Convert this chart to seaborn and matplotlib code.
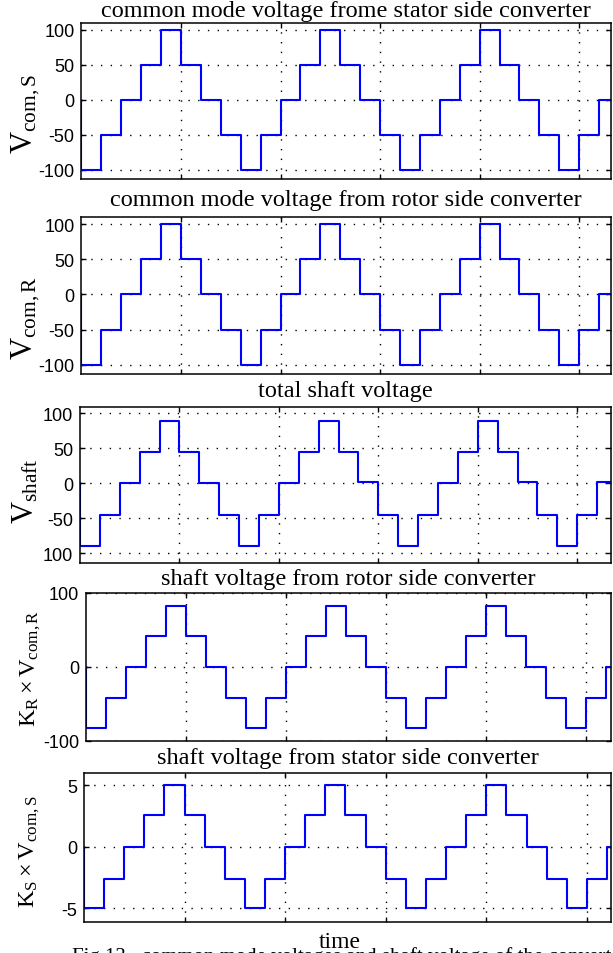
"""
Common mode / shaft voltage staircase waveforms (five stacked panels).
"""
import matplotlib
matplotlib.use("Agg")
import matplotlib.pyplot as plt
import pandas as pd
import seaborn as sns

# ─────────────────────────────── data ────────────────────────────────

# switching instants (first point repeated: the trace starts at 0 then drops)
t_edges = [0.0, 0.0, 0.2, 0.4, 0.6, 0.8, 1.0, 1.2, 1.4, 1.6, 1.8, 2.0, 2.2, 2.4,
           2.6, 2.8, 3.0, 3.2, 3.4, 3.6, 3.8, 4.0, 4.2, 4.4, 4.6, 4.8, 5.0, 5.2, 5.4]

v_com_s = [0, -100, -50, 0, 50, 100, 50, 0, -50,
           -100, -50, 0, 50, 100, 50, 0, -50,
           -100, -50, 0, 50, 100, 50, 0, -50,
           -100, -50, 0, 0]
v_com_r = [0, -100, -50, 0, 50, 100, 50, 0, -50,
           -100, -50, 0, 50, 100, 50, 0, -50,
           -100, -50, 0, 50, 100, 50, 0, -50,
           -100, -50, 0, 0]
v_shaft = [0, -89, -45, 0, 45, 89, 45, 0, -45,
           -89, -45, 0, 45, 89, 45, 1.5, -45,
           -89, -45, 0, 45, 89, 45, 1.5, -45,
           -89, -45, 1.5, 1.5]
kr_v_com_r = [0, -83, -42, 0, 42, 83, 42, 0, -42,
              -83, -42, 0, 42, 83, 42, 0, -42,
              -83, -42, 0, 42, 83, 42, 0, -42,
              -83, -42, 0, 0]
ks_v_com_s = [0, -5, -2.6, 0, 2.6, 5, 2.6, 0, -2.6,
              -5, -2.6, 0, 2.6, 5, 2.6, 0, -2.6,
              -5, -2.6, 0, 2.6, 5, 2.6, 0, -2.6,
              -5, -2.6, 0, 0]

titles = ["common mode voltage frome stator side converter",
          "common mode voltage from rotor side converter",
          "total shaft voltage",
          "shaft voltage from rotor side converter",
          "shaft voltage from stator side converter"]
ylabels = [r"$\mathrm{V_{com,S}}$",
           r"$\mathrm{V_{com,R}}$",
           r"$\mathrm{V_{shaft}}$",
           r"$\mathrm{K_R\times V_{com,R}}$",
           r"$\mathrm{K_S\times V_{com,S}}$"]
y_ticks = [[-100, -50, 0, 50, 100],
           [-100, -50, 0, 50, 100],
           [-100, -50, 0, 50, 100],
           [-100, 0, 100],
           [-5, 0, 5]]
y_ticklabels = [["-100", "-50", "0", "50", "100"],
                ["-100", "-50", "0", "50", "100"],
                ["100", "-50", "0", "50", "100"],
                ["-100", "0", "100"],
                ["-5", "0", "5"]]
x_ticks = [1, 2, 3, 4, 5]
series = [v_com_s, v_com_r, v_shaft, kr_v_com_r, ks_v_com_s]

# ────────────────────────────── layout ───────────────────────────────

W, H = 613, 954
# axes boxes in pixels: left, top, right, bottom
boxes = [(81.5, 24, 611, 180),
         (81.5, 218, 611, 375),
         (80, 408, 611, 564),
         (86, 594, 611, 742),
         (84, 774, 611, 923)]
y_lims = [(-113, 110), (-113, 110), (-114, 109), (-100, 100), (-6.1, 6.0)]
x_max = [5.32, 5.32, 5.34, 5.25, 5.24]
title_pads = [5.3, 8.4, 7.9, 6.7, 7.4]
ylabel_size = [22, 22, 22, 17.5, 17.5]
ylabel_pos = [(-0.075, 0.42), (-0.075, 0.36), (-0.075, 0.47),
              (-0.082, 0.5), (-0.08, 0.48)]

sns.set_theme(style="white", rc={
    "axes.edgecolor": "black",
    "axes.linewidth": 1.1,
    "xtick.direction": "in",
    "ytick.direction": "in",
    "xtick.top": True,
    "ytick.right": True,
    "xtick.bottom": True,
    "ytick.left": True,
})
plt.rcParams["font.family"] = ["Liberation Serif", "DejaVu Serif"]
plt.rcParams["mathtext.fontset"] = "custom"
plt.rcParams["mathtext.rm"] = "Liberation Serif"
plt.rcParams["mathtext.it"] = "Liberation Serif:italic"
plt.rcParams["axes.unicode_minus"] = False

fig = plt.figure(figsize=(W / 100, H / 100), dpi=100)

for i, values in enumerate(series):
    l, t, r, b = boxes[i]
    ax = fig.add_axes([l / W, 1 - b / H, (r - l) / W, (b - t) / H])
    df = pd.DataFrame({"t": t_edges, "v": values})
    sns.lineplot(data=df, x="t", y="v", ax=ax, color="#0000ff", lw=1.5,
                 drawstyle="steps-post", estimator=None, sort=False)

    ax.set_xlim(0, x_max[i])
    ax.set_ylim(*y_lims[i])
    ax.set_xticks(x_ticks, labels=[])
    ax.set_yticks(y_ticks[i], labels=y_ticklabels[i],
                  fontfamily="Liberation Sans", fontsize=13)
    ax.tick_params(axis="both", which="both", length=3.5, width=1.0,
                   color="black", pad=5, labelcolor="black")
    ax.grid(True, color="black", linestyle=(0, (1, 6)), linewidth=1.0)
    ax.set_axisbelow(True)

    ax.set_title(titles[i], fontsize=17.5, pad=title_pads[i], color="black")
    ax.set_xlabel("")
    ax.set_ylabel(ylabels[i], fontsize=ylabel_size[i], color="black")
    ax.yaxis.set_label_coords(*ylabel_pos[i])

    if i == len(series) - 1:
        ax.set_xlabel("time", fontsize=17, color="black")
        ax.xaxis.set_label_coords(0.486, -0.058)

# caption, mostly cut off by the bottom edge as in the source
fig.text(72 / W, 1 - 947.5 / H, "Fig.13   common mode voltages and shaft voltage of the converters",
         ha="left", va="top", fontsize=15, color="black")

fig.savefig("out.png", dpi=100)
